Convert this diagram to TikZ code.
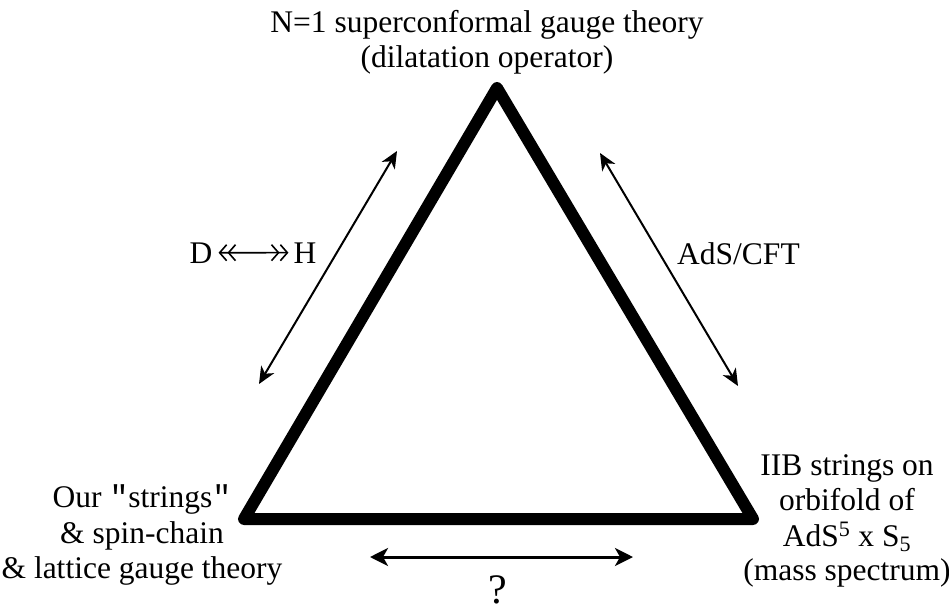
\documentclass[tikz,border=0pt]{standalone}
\usepackage{fontspec}
\setmainfont{Liberation Serif}
\setmonofont{Liberation Mono}
\usetikzlibrary{arrows.meta}
\begin{document}
\begin{tikzpicture}[x=1pt,y=-1pt,
  lbl/.style={font=\fontsize{31.5}{36}\selectfont, inner sep=0pt, anchor=base},
  thin arrow/.style={line width=2pt, {Stealth[length=17pt,width=15pt,inset=5pt]}-{Stealth[length=17pt,width=15pt,inset=5pt]}},
  thick arrow/.style={line width=3pt, {Stealth[length=18pt,width=18pt,inset=5pt]}-{Stealth[length=18pt,width=18pt,inset=5pt]}},
  dbl/.style={line width=1.6pt, {Straight Barb[length=7pt,width=16pt]Straight Barb[length=7pt,width=16pt]}-{Straight Barb[length=7pt,width=16pt]Straight Barb[length=7pt,width=16pt]}}]
\useasboundingbox (0,0) rectangle (949,615);
% triangle
\coordinate (A) at (497,88);
\coordinate (B) at (244,519);
\coordinate (C) at (753,519);
\draw[line width=12pt, line join=round] (A) -- (B) -- (C) -- cycle;
% arrows
\coordinate (l1) at (397,151);
\coordinate (l2) at (259,384);
\coordinate (r1) at (600,153);
\coordinate (r2) at (738,386);
\coordinate (b1) at (370,557);
\coordinate (b2) at (633,557);
\draw[thin arrow] (l1) -- (l2);
\draw[thin arrow] (r1) -- (r2);
\draw[thick arrow] (b1) -- (b2);
% labels
\node[lbl] (top1) at (487,33) {N=1 superconformal gauge theory};
\node[lbl] (top2) at (487,68) {(dilatation operator)};
\node[lbl] (D) at (201,263) {D};
\node[lbl] (H) at (305,263) {H};
\draw[dbl, shorten <=6pt, shorten >=5pt] (D.east) -- (H.west);
\node[lbl, anchor=base west] (ads) at (677,264) {AdS/CFT};
\node[lbl] (left1) at (142,507) {Our \texttt{"}strings\texttt{"}};
\node[lbl] (left2) at (142,543) {\& spin-chain};
\node[lbl] (left3) at (142,578) {\& lattice gauge theory};
\node[lbl] (right1) at (847,475) {IIB strings on};
\node[lbl] (right2) at (847,510) {orbifold of};
\node[lbl] (right3) at (847,546) {AdS\textsuperscript{5} x S\textsubscript{5}};
\node[lbl] (right4) at (847,580) {(mass spectrum)};
\node[lbl, font=\fontsize{42}{46}\selectfont, text depth=0pt] (q) at (498,603) {?};
\end{tikzpicture}
\end{document}
